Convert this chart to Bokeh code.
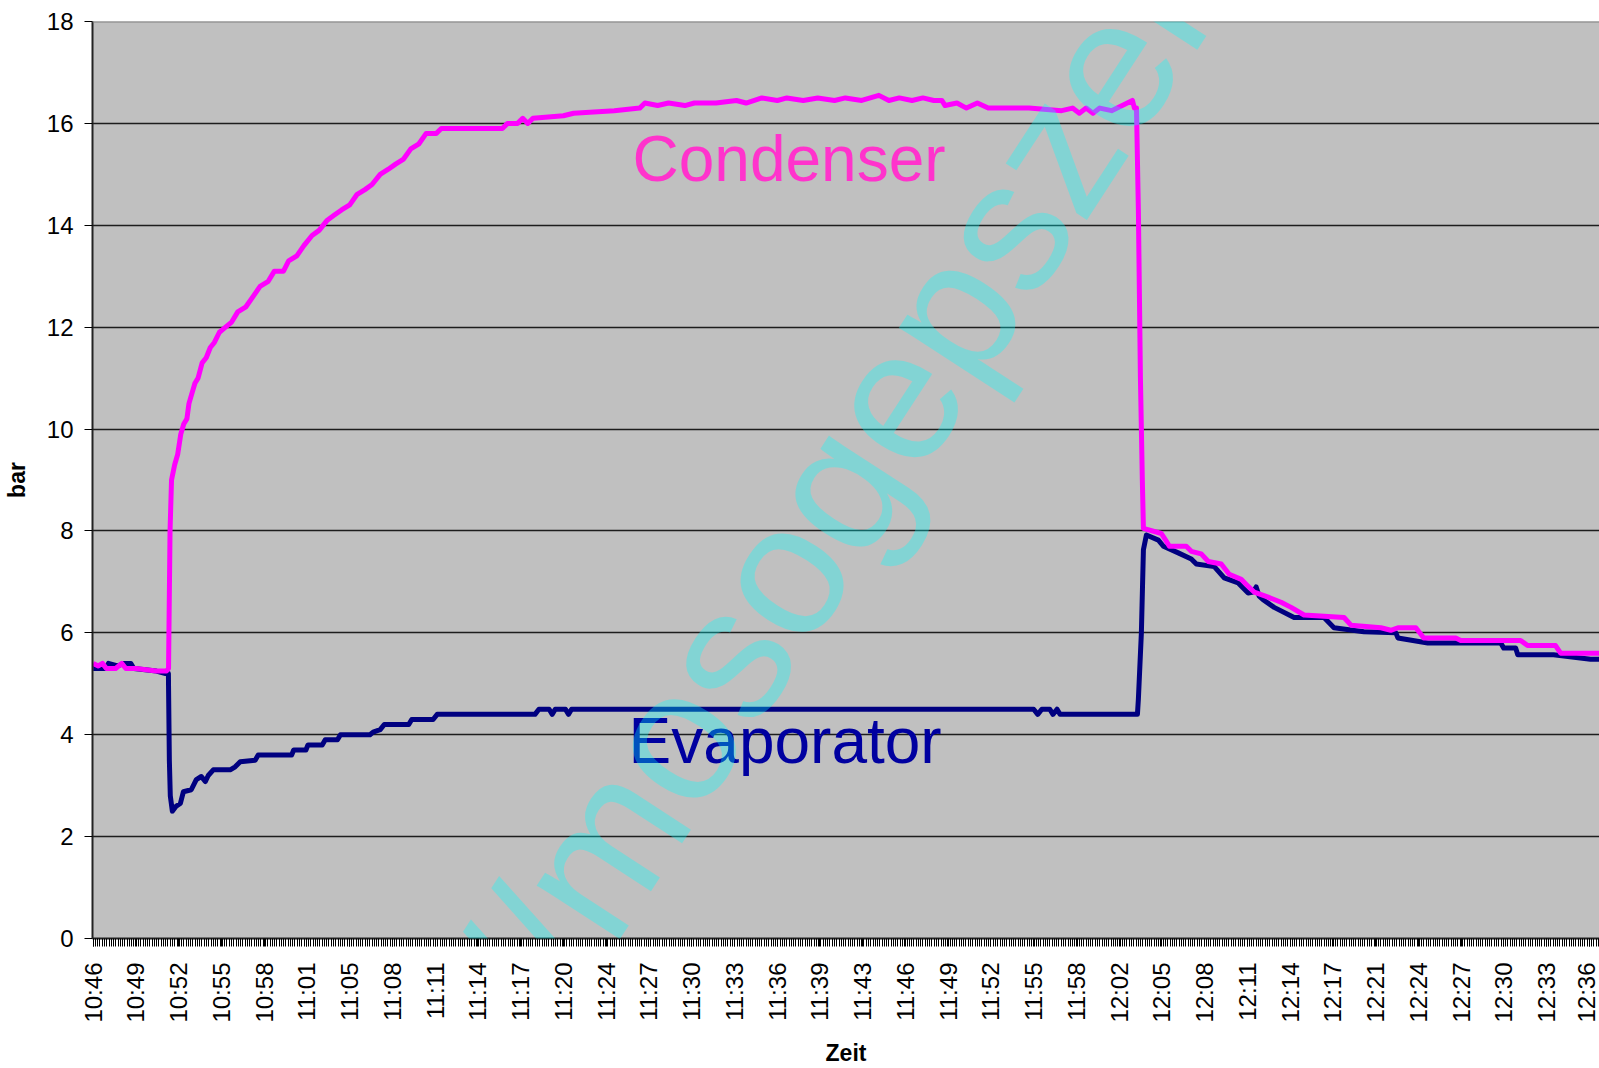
import numpy as np
from bokeh.plotting import figure
from bokeh.models import Range1d, FixedTicker, CustomJSTickFormatter, Label, Span
from bokeh.embed import file_html
from bokeh.resources import INLINE

# x values: minutes after 10:46
tick_labels = ["10:46", "10:49", "10:52", "10:55", "10:58", "11:01", "11:05", "11:08",
               "11:11", "11:14", "11:17", "11:20", "11:24", "11:27", "11:30", "11:33",
               "11:36", "11:39", "11:43", "11:46", "11:49", "11:52", "11:55", "11:58",
               "12:02", "12:05", "12:08", "12:11", "12:14", "12:17", "12:21", "12:24",
               "12:27", "12:30", "12:33", "12:36"]
span_minutes = 110

cond_t = [0.00, 0.38, 0.68, 0.97, 1.65, 2.10, 2.40, 3.15, 4.64, 5.39, 5.54, 5.65, 5.76,
          5.99, 6.21, 6.44, 6.66, 6.89, 7.04, 7.26, 7.48, 7.71, 8.01, 8.31, 8.61, 8.91,
          9.28, 9.73, 10.18, 10.63, 11.23, 11.75, 12.27, 12.87, 13.32, 13.99, 14.37, 14.97,
          15.49, 16.09, 16.61, 17.21, 17.73, 18.26, 18.86, 19.38, 19.98, 20.50, 21.10,
          21.70, 22.23, 22.82, 23.35, 23.95, 24.47, 25.22, 25.59, 26.34, 30.08, 30.46,
          31.20, 31.58, 31.95, 32.33, 34.57, 35.32, 38.31, 40.18, 40.56, 41.50, 42.30,
          43.50, 44.20, 45.79, 47.29, 48.00, 49.16, 50.30, 51.00, 52.20, 53.27, 54.50,
          55.30, 56.50, 57.76, 58.50, 59.26, 60.20, 61.00, 61.80, 62.39, 62.63, 63.50,
          64.20, 65.00, 65.80, 66.79, 68.63, 68.80, 71.20, 72.00, 72.50, 73.00, 73.50,
          74.00, 74.87, 76.40, 76.55, 76.70, 76.84, 76.99, 77.13, 77.21, 78.53, 78.89,
          79.12, 80.36, 80.73, 81.46, 81.98, 82.93, 83.52, 84.40, 84.77, 85.35, 86.38,
          87.33, 88.07, 89.02, 91.96, 92.47, 94.67, 95.40, 95.92, 97.24, 97.82, 100.17,
          100.54, 104.94, 105.45, 107.51, 107.88, 110.74]
cond_p = [5.40, 5.35, 5.40, 5.30, 5.30, 5.40, 5.30, 5.30, 5.25, 5.25, 5.30, 8.00, 9.00,
          9.30, 9.50, 9.90, 10.10, 10.20, 10.50, 10.70, 10.90, 11.00, 11.30, 11.40, 11.60,
          11.70, 11.90, 12.00, 12.10, 12.30, 12.40, 12.60, 12.80, 12.90, 13.10, 13.10,
          13.30, 13.40, 13.60, 13.80, 13.90, 14.10, 14.20, 14.30, 14.40, 14.60, 14.70,
          14.80, 15.00, 15.10, 15.20, 15.30, 15.50, 15.60, 15.80, 15.80, 15.90, 15.90,
          15.90, 16.00, 16.00, 16.10, 16.00, 16.10, 16.15, 16.20, 16.25, 16.30, 16.40,
          16.35, 16.40, 16.35, 16.40, 16.40, 16.45, 16.40, 16.50, 16.45, 16.50, 16.45,
          16.50, 16.45, 16.50, 16.45, 16.55, 16.45, 16.50, 16.45, 16.50, 16.45, 16.45,
          16.35, 16.40, 16.30, 16.40, 16.30, 16.30, 16.30, 16.30, 16.25, 16.30, 16.20,
          16.30, 16.20, 16.30, 16.25, 16.45, 16.30, 16.30, 14.30, 11.00, 9.00, 8.05, 7.95,
          7.80, 7.70, 7.70, 7.60, 7.55, 7.40, 7.35, 7.15, 7.05, 6.95, 6.80, 6.70, 6.60,
          6.50, 6.35, 6.30, 6.15, 6.10, 6.05, 6.10, 6.10, 5.90, 5.90, 5.85, 5.85, 5.75,
          5.75, 5.60, 5.60]

evap_t = [0.00, 0.90, 1.12, 1.80, 2.25, 2.77, 2.99, 4.64, 5.32, 5.53, 5.60, 5.67, 5.82,
          6.11, 6.41, 6.63, 7.21, 7.58, 7.95, 8.24, 8.46, 8.83, 10.07, 10.44, 10.81,
          11.91, 12.13, 14.59, 14.74, 15.64, 15.79, 16.84, 17.06, 17.96, 18.18, 20.35,
          20.58, 21.10, 21.40, 23.20, 23.42, 24.99, 25.29, 32.48, 32.77, 33.52, 33.75,
          33.97, 34.72, 34.94, 35.17, 69.14, 69.44, 69.74, 70.33, 70.56, 70.86, 71.08,
          76.77, 76.84, 77.06, 77.21, 77.43, 78.31, 78.68, 79.77, 80.73, 81.10, 82.42,
          83.15, 84.18, 84.91, 85.28, 85.50, 85.72, 86.01, 86.82, 88.29, 90.49, 91.22,
          93.42, 95.77, 95.92, 98.12, 103.48, 103.70, 104.58, 104.73, 107.36, 110.08,
          110.74]
evap_p = [5.30, 5.30, 5.40, 5.35, 5.40, 5.40, 5.30, 5.25, 5.20, 5.20, 3.50, 2.80, 2.50,
          2.60, 2.65, 2.88, 2.92, 3.12, 3.18, 3.08, 3.20, 3.31, 3.31, 3.37, 3.47, 3.50,
          3.60, 3.60, 3.70, 3.70, 3.80, 3.80, 3.90, 3.90, 4.00, 4.00, 4.05, 4.10, 4.20,
          4.20, 4.30, 4.30, 4.40, 4.40, 4.50, 4.50, 4.40, 4.50, 4.50, 4.40, 4.50, 4.50,
          4.40, 4.50, 4.50, 4.40, 4.50, 4.40, 4.40, 4.70, 6.00, 7.63, 7.92, 7.82, 7.70,
          7.57, 7.45, 7.35, 7.30, 7.08, 6.98, 6.78, 6.80, 6.90, 6.72, 6.65, 6.50, 6.30,
          6.30, 6.10, 6.02, 6.00, 5.90, 5.80, 5.80, 5.70, 5.70, 5.57, 5.57, 5.48, 5.48]

FONT = "Liberation Sans"

p = figure(width=1599, height=1068, output_backend="svg", toolbar_location=None,
           x_range=Range1d(-0.05, 110.74), y_range=Range1d(0, 18),
           min_border_left=89, min_border_right=0, min_border_top=21, min_border_bottom=129)
p.background_fill_color = "#C0C0C0"
p.border_fill_color = "white"
p.outline_line_color = None

n_lab = len(tick_labels)
major = [i * span_minutes / (n_lab - 1) for i in range(n_lab)]
minor = list(np.arange(0, 110.7, 1 / 6))
p.xaxis.ticker = FixedTicker(ticks=major, minor_ticks=minor)
p.xaxis.formatter = CustomJSTickFormatter(
    args=dict(labels=tick_labels, span=span_minutes),
    code="const i = Math.round(tick*(labels.length-1)/span); return (i>=0 && i<labels.length) ? labels[i] : '';")
p.xaxis.major_label_orientation = np.pi / 2
p.yaxis.ticker = FixedTicker(ticks=list(range(0, 19, 2)))

for ax in (p.xaxis, p.yaxis):
    ax.axis_line_color = "#222222"
    ax.axis_line_width = 2
    ax.major_tick_line_color = "#000000"
    ax.major_tick_out = 8
    ax.major_tick_in = 0
    ax.major_label_text_font = FONT
    ax.major_label_text_font_size = "24px"
    ax.major_label_text_color = "#000000"
    ax.axis_label_text_font = FONT
    ax.axis_label_text_font_size = "23px"
    ax.axis_label_text_font_style = "bold"
    ax.axis_label_text_color = "#000000"

p.xaxis.minor_tick_out = 8
p.xaxis.minor_tick_in = 0
p.xaxis.minor_tick_line_color = "#000000"
p.xaxis.major_label_standoff = 16
p.xaxis.axis_label = "Zeit"
p.xaxis.axis_label_standoff = 14
p.yaxis.minor_tick_line_color = None
p.yaxis.major_label_standoff = 11
p.yaxis.axis_label = "bar"
p.yaxis.axis_label_standoff = 14

p.xgrid.grid_line_color = None
p.ygrid.grid_line_color = "#000000"
p.ygrid.grid_line_width = 1.3
p.ygrid.grid_line_alpha = 0.85

p.add_layout(Span(location=18, dimension="width", line_color="#808080", line_width=2))

p.line(evap_t, evap_p, line_color="#000080", line_width=5, line_join="round")
p.line(cond_t, cond_p, line_color="#FF00FF", line_width=5, line_join="round")

p.add_layout(Label(x=51.16, y=15.31, text="Condenser", text_align="center",
                   text_baseline="alphabetic", text_font=FONT, text_font_size="64px",
                   text_color="#FF33CC"))
p.add_layout(Label(x=50.87, y=3.87, text="Evaporator", text_align="center",
                   text_baseline="alphabetic", text_font=FONT, text_font_size="64px",
                   text_color="#0000A0"))

p.add_layout(Label(x=27.98, y=-2.10, text="://mosogepszer", angle=57, angle_units="deg",
                   text_align="left", text_baseline="alphabetic", text_font=FONT,
                   text_font_size="187px", text_color="#00FFFF", text_alpha=0.32))

open("out.html", "w").write(file_html(p, INLINE))
